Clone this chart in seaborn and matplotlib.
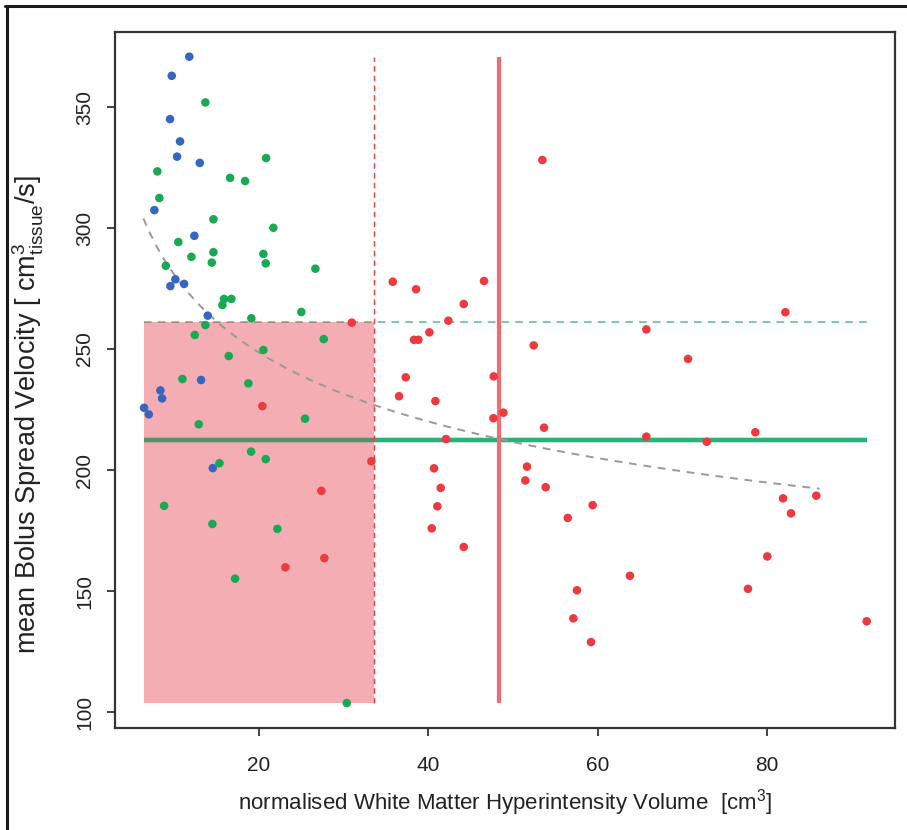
import numpy as np
import pandas as pd
import matplotlib
matplotlib.use("Agg")
import matplotlib.pyplot as plt
import seaborn as sns
from matplotlib.lines import Line2D
from matplotlib.patches import Rectangle

# ---------------- data ----------------
blue_x = [11.77, 9.70, 9.50, 10.68, 10.33, 13.01, 7.65, 12.37, 10.13, 9.54, 11.16, 13.95,
          13.16, 8.36, 8.56, 6.43, 6.99, 14.55]
blue_y = [370.8, 362.9, 345.0, 335.8, 329.5, 326.9, 307.4, 296.8, 278.8, 276.0, 276.9, 263.8,
          237.2, 232.9, 229.6, 225.7, 223.0, 200.8]

green_x = [13.67, 8.00, 8.24, 20.84, 16.59, 18.36, 14.62, 21.70, 10.48, 12.02, 14.62, 14.43,
           20.52, 20.80, 9.00, 26.66, 15.88, 16.74, 15.68, 25.00, 19.10, 13.67, 12.42, 27.65,
           20.52, 16.43, 10.96, 18.75, 12.89, 25.44, 19.07, 20.80, 15.33, 8.80, 14.50, 22.17,
           17.18, 30.37]
green_y = [351.9, 323.4, 312.4, 328.9, 320.7, 319.4, 303.6, 300.1, 294.2, 288.1, 290.0, 285.7,
           289.3, 285.4, 284.4, 283.2, 270.7, 270.7, 268.2, 265.3, 262.7, 259.9, 255.8, 254.1,
           249.6, 247.1, 237.6, 235.8, 218.9, 221.2, 207.6, 204.5, 202.8, 185.2, 177.7, 175.7,
           155.1, 103.7]

red_x = [35.80, 30.96, 20.40, 33.27, 27.37, 27.72, 23.12,
         53.46, 38.55, 46.57, 44.18, 42.36, 40.12, 38.31, 38.82, 52.44, 37.33, 47.72, 36.54,
         40.83, 47.68, 48.86, 53.66, 42.09,
         40.67, 51.65, 51.45, 53.85, 41.46, 41.06, 59.40, 56.46, 40.40, 44.18, 63.80, 57.55,
         57.12, 59.21,
         82.15, 65.74, 70.66, 65.74, 72.87, 78.61, 81.88, 85.81, 82.82, 80.02, 77.74, 91.76]
red_y = [277.8, 260.9, 226.4, 203.6, 191.4, 163.6, 159.8,
         328.1, 274.7, 278.1, 268.6, 261.7, 256.9, 253.8, 253.8, 251.5, 238.3, 238.7, 230.5,
         228.5, 221.4, 223.7, 217.5, 212.8,
         200.7, 201.4, 195.7, 192.9, 192.6, 185.0, 185.5, 180.2, 175.9, 168.2, 156.3, 150.3,
         138.7, 128.9,
         265.2, 258.1, 245.9, 213.8, 211.7, 215.6, 188.3, 189.4, 182.1, 164.3, 150.9, 137.5]

# trend curve: points
trend_x = [6.35, 12.8, 33.6, 48.1, 60.3, 86.2]
trend_y = [303.7, 269.0, 227.0, 213.0, 205.0, 192.0]

threshold_dashed_x = 33.6     # red dashed vertical (edge of shaded region)
threshold_solid_x = 48.3      # red solid vertical
level_dashed_y = 261.0        # green dashed horizontal
level_solid_y = 212.4         # green solid horizontal

x_ticks = [20, 40, 60, 80]
y_ticks = [100, 150, 200, 250, 300, 350]

xlabel = r"normalised White Matter Hyperintensity Volume  [cm$^{\mathregular{3}}$]"
ylabel = r"mean Bolus Spread Velocity [ cm$^{\mathregular{3}}_{\mathregular{tissue}}$/s]"

# ---------------- frame ----------------
df = pd.DataFrame({
    "x": blue_x + green_x + red_x,
    "y": blue_y + green_y + red_y,
    "group": ["blue"] * len(blue_x) + ["green"] * len(green_x) + ["red"] * len(red_x),
})
palette = {"blue": "#3566c2", "green": "#17aa52", "red": "#ec3a40"}

sns.set_theme(style="white")
plt.rcParams["font.family"] = ["Liberation Sans", "DejaVu Sans"]
plt.rcParams["mathtext.fontset"] = "custom"
plt.rcParams["mathtext.rm"] = "Liberation Sans"

fig = plt.figure(figsize=(9.07, 8.30), dpi=100)
ax = fig.add_axes([115 / 907, 1 - 728 / 830, (895 - 115) / 907, (728 - 32) / 830])

xmin, xmax = df["x"].min(), df["x"].max()
ymin, ymax = df["y"].min(), df["y"].max()

line_green = "#2ab27b"
# horizontal reference lines
ax.plot([xmin, xmax], [level_solid_y] * 2, color=line_green, lw=3.2, zorder=2,
        solid_capstyle="butt")
ax.plot([xmin, xmax], [level_dashed_y] * 2, color="#4fbf90", lw=1.1, ls=(0, (5, 4)), zorder=2)

# shaded region
ax.add_patch(Rectangle((xmin, ymin), threshold_dashed_x - xmin, level_dashed_y - ymin,
                       facecolor="#e6283c", alpha=0.38, edgecolor="none", zorder=3))
# faint overlay so the green line shows through the shaded region
ax.plot([xmin, xmax], [level_solid_y] * 2, color=line_green, lw=3.2, alpha=0.4, zorder=3.5,
        solid_capstyle="butt")

# vertical reference lines
ax.plot([threshold_dashed_x] * 2, [ymin, ymax], color="#f03c3c", lw=1.0, ls=(0, (4, 3)), zorder=4)
ax.plot([threshold_solid_x] * 2, [ymin, ymax], color="#f06a6e", lw=3.0, zorder=4,
        solid_capstyle="butt")

# power-law trend through the read curve points
b_fit, lnA = np.polyfit(np.log(trend_x), np.log(trend_y), 1)
xc = np.linspace(min(trend_x), max(trend_x), 200)
ax.plot(xc, np.exp(lnA) * xc ** b_fit, color="#999999", lw=1.4, ls=(0, (4, 3.5)), zorder=4)

sns.scatterplot(data=df, x="x", y="y", hue="group", palette=palette, s=38,
                edgecolor="none", legend=False, ax=ax, zorder=5)

ax.set_xlim(3.0, 95.1)
ax.set_ylim(93.4, 381.0)
ax.set_xticks(x_ticks)
ax.set_yticks(y_ticks)
ax.set_yticklabels([str(v) for v in y_ticks], rotation=90, va="center")
ax.tick_params(axis="both", direction="out", length=6, width=1.2, color="#222222",
               labelsize=15, labelcolor="#222222")
ax.tick_params(axis="x", pad=14)
ax.tick_params(axis="y", pad=9)
ax.tick_params(left=True, bottom=True)
for sp in ax.spines.values():
    sp.set_visible(True)
    sp.set_color("#333333")
    sp.set_linewidth(1.6)

ax.set_xlabel(xlabel, fontsize=16, color="#222222", labelpad=9)
ax.set_ylabel(ylabel, fontsize=19.5, color="#222222")
ax.yaxis.set_label_coords(-0.088, 0.45)

# outer frame (top and left edges visible)
fig.add_artist(Line2D([5 / 907, 1.0], [1 - 6 / 830] * 2, color="#1a1a1a", lw=2.2,
                      transform=fig.transFigure))
fig.add_artist(Line2D([7 / 907] * 2, [0.0, 1 - 6 / 830], color="#1a1a1a", lw=2.2,
                      transform=fig.transFigure))

fig.savefig("out.png", dpi=100)
